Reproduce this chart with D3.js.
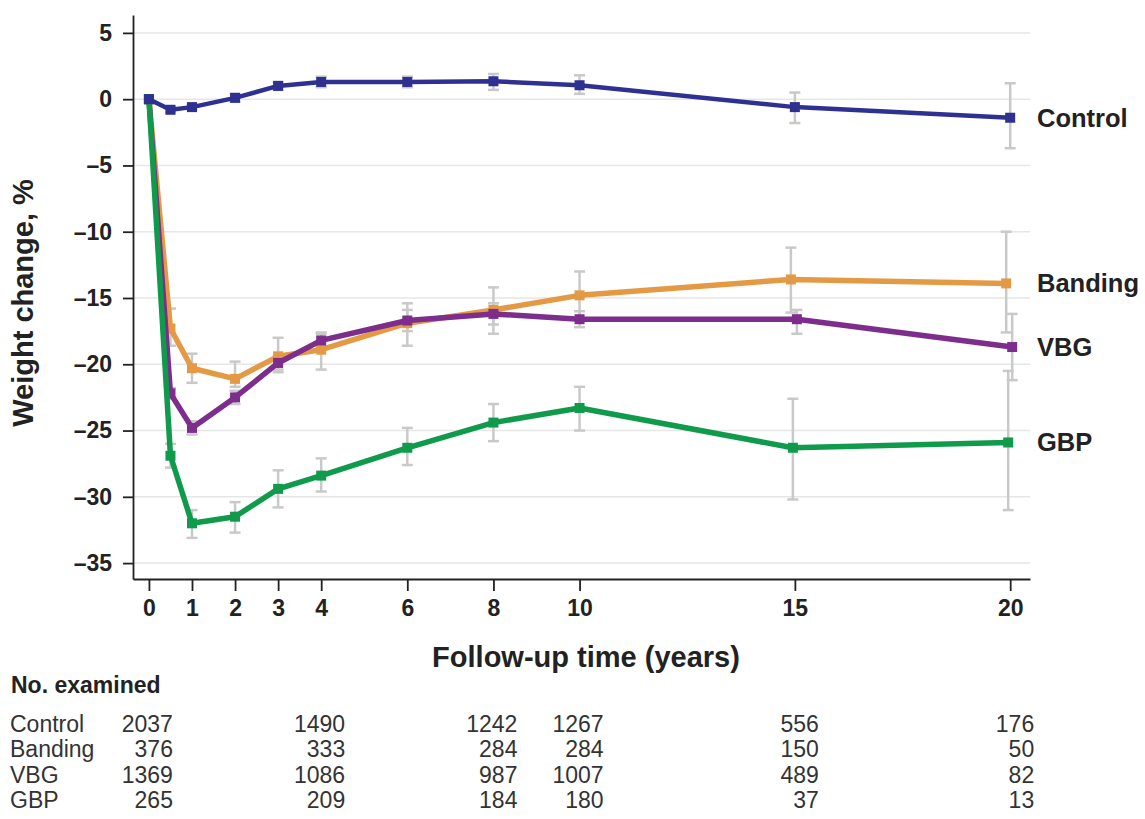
<!DOCTYPE html>
<html>
<head>
<meta charset="utf-8">
<script src="https://cdn.jsdelivr.net/npm/d3@7"></script>
<style>
  html, body { margin: 0; padding: 0; background: #fff; }
  svg { display: block; font-family: "Liberation Sans", Arial, Helvetica, sans-serif; }
</style>
</head>
<body>
<svg id="chart" width="1145" height="819"></svg>
<script>
// ---- data ----
const years = [0, 0.5, 1, 2, 3, 4, 6, 8, 10, 15, 20];

const seriesNames = ["Control", "Banding", "VBG", "GBP"];

const controlVals = [0, -0.8, -0.6, 0.1, 1.0, 1.3, 1.3, 1.35, 1.05, -0.6, -1.4];
const controlLo   = [0, -1.0, -0.8, -0.2, 0.7, 0.9, 0.9, 0.7, 0.4, -1.8, -3.7];
const controlHi   = [0, -0.6, -0.4, 0.4, 1.3, 1.7, 1.7, 1.9, 1.8, 0.5, 1.2];

const bandingVals = [0, -17.3, -20.3, -21.1, -19.4, -18.9, -16.9, -15.9, -14.8, -13.6, -13.9];
const bandingLo   = [0, -18.6, -21.4, -21.7, -20.6, -20.4, -18.6, -17.7, -16.5, -16.1, -17.6];
const bandingHi   = [0, -15.8, -19.2, -19.8, -18.0, -17.6, -15.4, -14.2, -13.0, -11.2, -10.0];

const vbgVals = [0, -22.2, -24.8, -22.5, -19.9, -18.2, -16.7, -16.2, -16.6, -16.6, -18.7];
const vbgLo   = [0, -22.6, -25.3, -23.0, -20.4, -18.7, -17.5, -17.0, -17.2, -17.7, -21.2];
const vbgHi   = [0, -21.8, -24.3, -22.0, -19.4, -17.7, -15.9, -15.4, -16.0, -15.9, -16.2];

const gbpVals = [0, -26.9, -32.0, -31.5, -29.4, -28.4, -26.3, -24.4, -23.3, -26.3, -25.9];
const gbpLo   = [0, -27.8, -33.1, -32.7, -30.8, -29.6, -27.6, -25.8, -25.0, -30.2, -31.0];
const gbpHi   = [0, -26.0, -31.0, -30.4, -28.0, -27.1, -24.8, -23.0, -21.7, -22.6, -20.5];

const xTicks = [0, 1, 2, 3, 4, 6, 8, 10, 15, 20];
const yTicks = [5, 0, -5, -10, -15, -20, -25, -30, -35];

const tableTitle = "No. examined";
const tableYears = [0, 4, 8, 10, 15, 20];
const nControl = [2037, 1490, 1242, 1267, 556, 176];
const nBanding = [376, 333, 284, 284, 150, 50];
const nVBG     = [1369, 1086, 987, 1007, 489, 82];
const nGBP     = [265, 209, 184, 180, 37, 13];

const xTitle = "Follow-up time (years)";
const yTitle = "Weight change, %";

// ---- build ----
const colors = { Control: "#2e3192", Banding: "#e49a45", VBG: "#7d2d8c", GBP: "#109a4b" };
const dodge  = { Control: 0, Banding: -4, VBG: 2, GBP: -2 };
const dx = (name, t) => (t >= 15 ? dodge[name] : 0);

const series = [
  { name: "Control", vals: controlVals, lo: controlLo, hi: controlHi, n: nControl },
  { name: "Banding", vals: bandingVals, lo: bandingLo, hi: bandingHi, n: nBanding },
  { name: "VBG",     vals: vbgVals,     lo: vbgLo,     hi: vbgHi,     n: nVBG },
  { name: "GBP",     vals: gbpVals,     lo: gbpLo,     hi: gbpHi,     n: nGBP }
].map(s => ({ ...s, pts: years.map((t, i) => ({ t, v: s.vals[i], lo: s.lo[i], hi: s.hi[i] })) }));

const svg = d3.select("#chart");

const x = d3.scaleLinear().domain([-0.37, 20.46]).range([133, 1030]);
const y = d3.scaleLinear().domain([-36.2, 6.35]).range([579, 15]);

// gridlines
svg.append("g")
  .selectAll("line")
  .data(yTicks)
  .join("line")
  .attr("x1", x.range()[0]).attr("x2", x.range()[1])
  .attr("y1", d => y(d)).attr("y2", d => y(d))
  .attr("stroke", "#e6e6e6").attr("stroke-width", 1.5);

// y axis
const fmt = d => d < 0 ? "\u2013" + Math.abs(d) : String(d);
const yAxis = svg.append("g")
  .attr("transform", `translate(${x.range()[0]},0)`)
  .call(d3.axisLeft(y).tickValues(yTicks).tickFormat(fmt).tickSize(10).tickPadding(11).tickSizeOuter(0));
yAxis.select(".domain").attr("stroke", "#222").attr("stroke-width", 1.8);
yAxis.selectAll(".tick line").attr("stroke", "#222").attr("stroke-width", 1.8);
yAxis.selectAll(".tick text")
  .attr("font-size", 23).attr("font-weight", "bold").attr("fill", "#222")
  .attr("font-family", "Liberation Sans, Arial, sans-serif");

// x axis
const xAxis = svg.append("g")
  .attr("transform", `translate(0,${y.range()[0]})`)
  .call(d3.axisBottom(x).tickValues(xTicks).tickSize(12).tickPadding(9).tickSizeOuter(0));
xAxis.select(".domain").attr("stroke", "#222").attr("stroke-width", 1.8);
xAxis.selectAll(".tick line").attr("stroke", "#222").attr("stroke-width", 1.8);
xAxis.selectAll(".tick text")
  .attr("font-size", 23).attr("font-weight", "bold").attr("fill", "#222")
  .attr("font-family", "Liberation Sans, Arial, sans-serif");

// axis titles
svg.append("text")
  .attr("x", 586).attr("y", 667)
  .attr("text-anchor", "middle")
  .attr("font-size", 29).attr("font-weight", "bold").attr("fill", "#222")
  .text(xTitle);

svg.append("text")
  .attr("transform", "translate(33,303) rotate(-90)")
  .attr("text-anchor", "middle")
  .attr("font-size", 29).attr("font-weight", "bold").attr("fill", "#222")
  .text(yTitle);

// error bars (behind lines)
const eb = svg.append("g");
series.forEach(s => {
  const g = eb.append("g");
  const pts = s.pts.filter(p => p.t > 0);
  const px = p => x(p.t) + dx(s.name, p.t);
  g.selectAll("line.v").data(pts).join("line")
    .attr("x1", px).attr("x2", px)
    .attr("y1", p => y(p.hi)).attr("y2", p => y(p.lo))
    .attr("stroke", "#c9c9c9").attr("stroke-width", 2.5);
  g.selectAll("line.top").data(pts).join("line")
    .attr("x1", p => px(p) - 5.5).attr("x2", p => px(p) + 5.5)
    .attr("y1", p => y(p.hi)).attr("y2", p => y(p.hi))
    .attr("stroke", "#c9c9c9").attr("stroke-width", 2.5);
  g.selectAll("line.bot").data(pts).join("line")
    .attr("x1", p => px(p) - 5.5).attr("x2", p => px(p) + 5.5)
    .attr("y1", p => y(p.lo)).attr("y2", p => y(p.lo))
    .attr("stroke", "#c9c9c9").attr("stroke-width", 2.5);
});

// lines + markers
const drawOrder = ["Banding", "VBG", "GBP", "Control"];
drawOrder.forEach(name => {
  const s = series.find(d => d.name === name);
  const px = p => x(p.t) + dx(name, p.t);
  svg.append("path")
    .datum(s.pts)
    .attr("d", d3.line().x(px).y(p => y(p.v)))
    .attr("fill", "none")
    .attr("stroke", colors[name])
    .attr("stroke-width", name === "Control" ? 4.5 : 5.5)
    .attr("stroke-linejoin", "round");
  svg.append("g").selectAll("rect").data(s.pts).join("rect")
    .attr("x", p => px(p) - 5).attr("y", p => y(p.v) - 5)
    .attr("width", 10).attr("height", 10)
    .attr("fill", colors[name]);
});

// series labels at right
series.forEach(s => {
  const last = s.pts[s.pts.length - 1];
  svg.append("text")
    .attr("x", 1037).attr("y", y(last.v))
    .attr("dy", "0.35em")
    .attr("font-size", 25.5).attr("font-weight", "bold").attr("fill", "#222")
    .text(s.name);
});

// table
svg.append("text")
  .attr("x", 11).attr("y", 693)
  .attr("font-size", 23).attr("font-weight", "bold").attr("fill", "#222")
  .text(tableTitle);

const rowY = d3.scalePoint().domain(seriesNames).range([732, 808]);
series.forEach(s => {
  svg.append("text")
    .attr("x", 10).attr("y", rowY(s.name))
    .attr("font-size", 23).attr("fill", "#333")
    .text(s.name);
  svg.append("g").selectAll("text").data(tableYears).join("text")
    .attr("x", t => x(t) + 24).attr("y", rowY(s.name))
    .attr("text-anchor", "end")
    .attr("font-size", 23).attr("fill", "#333")
    .text((t, i) => s.n[i]);
});
</script>
</body>
</html>
